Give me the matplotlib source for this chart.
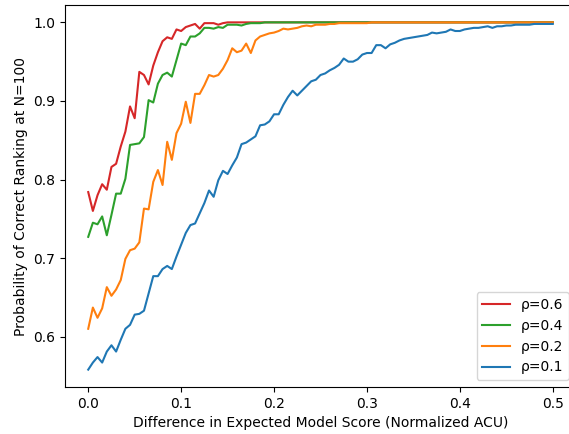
import numpy as np
import matplotlib
matplotlib.use("Agg")
import matplotlib.pyplot as plt

# x grid: score difference 0.0 .. 0.5 in steps of 0.005
diff = np.linspace(0.0, 0.5, 101)

rho_06 = [0.784, 0.760, 0.780, 0.794, 0.787, 0.816, 0.820, 0.842, 0.861, 0.893,
          0.878, 0.937, 0.933, 0.921, 0.945, 0.962, 0.976, 0.981, 0.979, 0.991,
          0.989, 0.994, 0.996, 0.998, 0.992, 0.999, 0.999, 0.999, 0.997, 0.999,
          1.0, 1.0, 1.0, 1.0, 1.0, 1.0, 1.0, 1.0, 1.0, 1.0,
          1.0, 1.0, 1.0, 1.0, 1.0, 1.0, 1.0, 1.0, 1.0, 1.0,
          1.0, 1.0, 1.0, 1.0, 1.0, 1.0, 1.0, 1.0, 1.0, 1.0,
          1.0, 1.0, 1.0, 1.0, 1.0, 1.0, 1.0, 1.0, 1.0, 1.0,
          1.0, 1.0, 1.0, 1.0, 1.0, 1.0, 1.0, 1.0, 1.0, 1.0,
          1.0, 1.0, 1.0, 1.0, 1.0, 1.0, 1.0, 1.0, 1.0, 1.0,
          1.0, 1.0, 1.0, 1.0, 1.0, 1.0, 1.0, 1.0, 1.0, 1.0,
          1.0]

rho_04 = [0.727, 0.745, 0.743, 0.753, 0.729, 0.755, 0.782, 0.782, 0.801, 0.844,
          0.845, 0.846, 0.854, 0.901, 0.898, 0.922, 0.933, 0.936, 0.931, 0.952,
          0.973, 0.971, 0.982, 0.982, 0.986, 0.993, 0.993, 0.992, 0.994, 0.993,
          0.997, 0.997, 0.997, 0.996, 0.998, 0.999, 0.999, 0.999, 1.0, 1.0,
          1.0, 1.0, 1.0, 1.0, 1.0, 1.0, 1.0, 1.0, 1.0, 1.0,
          1.0, 1.0, 1.0, 1.0, 1.0, 1.0, 1.0, 1.0, 1.0, 1.0,
          1.0, 1.0, 1.0, 1.0, 1.0, 1.0, 1.0, 1.0, 1.0, 1.0,
          1.0, 1.0, 1.0, 1.0, 1.0, 1.0, 1.0, 1.0, 1.0, 1.0,
          1.0, 1.0, 1.0, 1.0, 1.0, 1.0, 1.0, 1.0, 1.0, 1.0,
          1.0, 1.0, 1.0, 1.0, 1.0, 1.0, 1.0, 1.0, 1.0, 1.0,
          1.0]

rho_02 = [0.610, 0.637, 0.624, 0.636, 0.663, 0.652, 0.660, 0.672, 0.699, 0.710,
          0.712, 0.720, 0.763, 0.762, 0.797, 0.812, 0.793, 0.848, 0.825, 0.859,
          0.871, 0.899, 0.872, 0.909, 0.909, 0.920, 0.933, 0.931, 0.933, 0.941,
          0.952, 0.967, 0.962, 0.964, 0.973, 0.961, 0.977, 0.982, 0.984, 0.986,
          0.987, 0.989, 0.992, 0.991, 0.992, 0.993, 0.995, 0.996, 0.995, 0.997,
          0.997, 0.997, 0.998, 0.998, 0.999, 0.999, 0.999, 0.999, 0.999, 0.999,
          0.999, 1.0, 1.0, 1.0, 1.0, 1.0, 1.0, 1.0, 1.0, 1.0,
          1.0, 1.0, 1.0, 1.0, 1.0, 1.0, 1.0, 1.0, 1.0, 1.0,
          1.0, 1.0, 1.0, 1.0, 1.0, 1.0, 1.0, 1.0, 1.0, 1.0,
          1.0, 1.0, 1.0, 1.0, 1.0, 1.0, 1.0, 1.0, 1.0, 1.0,
          1.0]

rho_01 = [0.558, 0.567, 0.574, 0.567, 0.581, 0.589, 0.581, 0.596, 0.610, 0.615,
          0.628, 0.629, 0.633, 0.655, 0.677, 0.677, 0.686, 0.690, 0.686, 0.702,
          0.717, 0.732, 0.742, 0.744, 0.757, 0.770, 0.786, 0.778, 0.799, 0.811,
          0.807, 0.818, 0.828, 0.845, 0.847, 0.851, 0.855, 0.869, 0.870, 0.874,
          0.883, 0.883, 0.895, 0.905, 0.913, 0.907, 0.913, 0.919, 0.925, 0.927,
          0.933, 0.935, 0.939, 0.942, 0.946, 0.954, 0.950, 0.950, 0.953, 0.959,
          0.961, 0.961, 0.971, 0.971, 0.967, 0.972, 0.974, 0.977, 0.979, 0.980,
          0.981, 0.982, 0.983, 0.984, 0.987, 0.986, 0.987, 0.988, 0.991, 0.989,
          0.989, 0.991, 0.992, 0.993, 0.993, 0.994, 0.995, 0.993, 0.995, 0.995,
          0.996, 0.996, 0.997, 0.997, 0.997, 0.997, 0.998, 0.998, 0.998, 0.998,
          0.998]

labels = ["ρ=0.6", "ρ=0.4", "ρ=0.2", "ρ=0.1"]
colors = ["tab:red", "tab:green", "tab:orange", "tab:blue"]

# keep the canvas at exactly 569x434 even though the axes run past the right edge
plt.rcParams["savefig.bbox"] = "standard"

fig = plt.figure(figsize=(5.69, 4.34), dpi=100)
# the original image is cropped on the right, so the axes run past the edge
ax = fig.add_axes([65 / 569, 47 / 434, 511 / 569, 382 / 434])

for ys, lab, col in zip([rho_06, rho_04, rho_02, rho_01], labels, colors):
    ax.plot(diff, ys, color=col, label=lab)

ax.set_xlabel("Difference in Expected Model Score (Normalized ACU)")
ax.set_ylabel("Probability of Correct Ranking at N=100")
ax.legend(loc="lower right")

fig.savefig("out.png", dpi=100, bbox_inches=None)
